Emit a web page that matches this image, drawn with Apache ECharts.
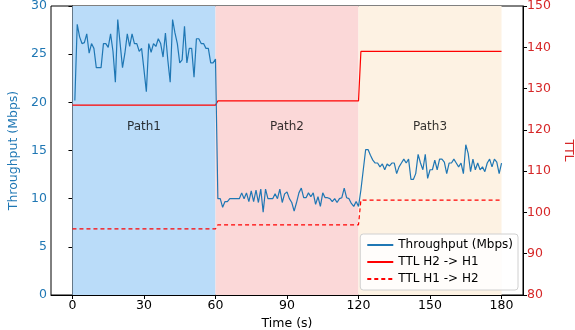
<!DOCTYPE html>
<html>
<head>
<meta charset="utf-8">
<script src="https://cdn.jsdelivr.net/npm/echarts@6/dist/echarts.min.js"></script>
<style>
  html, body { margin: 0; padding: 0; background: #fff; }
  #chart { width: 575px; height: 330px; }
</style>
</head>
<body>
<div id="chart"></div>
<script>
// throughput sampled once a second, t = 1 .. 180
var throughput = [
  20.2, 28.1, 26.8, 26.1, 26.2, 27.1, 25.1, 26.1, 25.6, 23.6,
  23.6, 23.6, 26.1, 26.1, 25.7, 27.1, 25.3, 22.1, 28.6, 26.1,
  23.6, 25.1, 27.1, 25.8, 27.1, 26.1, 26.1, 25.3, 25.6, 23.4,
  21.1, 26.1, 25.2, 26.1, 25.8, 26.6, 26.1, 24.7, 27.2, 24.4,
  22.1, 28.6, 27.2, 26.1, 24.1, 24.4, 27.9, 24.1, 25.6, 25.6,
  22.6, 26.6, 26.6, 26.1, 26.1, 25.6, 25.6, 24.1, 24.1, 24.5,
  10.0, 10.0, 9.1, 9.7, 9.7, 10.0, 10.0, 10.0, 10.0, 10.0,
  10.6, 10.0, 10.6, 9.7, 10.8, 9.7, 10.9, 9.6, 11.0, 8.6,
  11.0, 10.0, 10.0, 10.0, 10.5, 10.0, 11.0, 9.6, 10.5, 10.7,
  10.0, 9.6, 8.7, 9.6, 10.6, 11.1, 10.1, 10.1, 10.6, 10.2,
  10.6, 9.4, 10.2, 9.2, 10.6, 10.1, 10.1, 10.0, 9.7, 10.0,
  9.6, 10.0, 10.1, 11.1, 10.1, 10.0, 9.5, 9.2, 9.7, 9.2,
  10.9, 13.0, 15.1, 15.1, 14.5, 14.0, 13.7, 13.7, 13.3, 13.6,
  13.0, 13.6, 13.4, 13.7, 13.7, 12.6, 13.3, 13.7, 14.1, 13.7,
  14.1, 12.0, 12.0, 12.6, 14.6, 13.7, 13.0, 14.6, 12.1, 13.0,
  13.0, 14.0, 13.0, 14.1, 14.1, 13.8, 12.6, 13.7, 13.7, 14.1,
  13.7, 13.3, 13.7, 12.6, 15.6, 14.7, 12.8, 14.1, 13.0, 13.7,
  13.0, 13.3, 12.8, 13.7, 14.1, 13.3, 14.1, 13.8, 12.6, 13.7
];
var startTime = 1;

var ttlTimes = [0, 60, 61, 120, 121, 180];
var ttlH2H1 = [126, 126, 127, 127, 139, 139];
var ttlH1H2 = [96, 96, 97, 97, 103, 103];

var pathNames = ["Path1", "Path2", "Path3"];
var pathStart = [0, 60, 120];
var pathEnd = [60, 120, 180];
var pathColors = ["#badcf9", "#fbd8d8", "#fdf2e3"];
var pathLabelX = [30, 90, 150];
var pathLabelY = 17.5;

var timeTicks = [0, 30, 60, 90, 120, 150, 180];

var blue = "#1f77b4";
var red = "#d62728";
var font = "DejaVu Sans";
var fs = 12.5;

var chart = echarts.init(document.getElementById("chart"));

var pairs = function (xs, ys) {
  return xs.map(function (x, i) { return [x, ys[i]]; });
};

chart.setOption({
  animation: false,
  textStyle: { fontFamily: font },
  grid: {
    left: 51, right: 52, top: 6, bottom: 35,
    outerBoundsMode: "none",
    containLabel: false,
    show: true, borderColor: "#000", borderWidth: 1
  },
  legend: {
    orient: "vertical",
    right: 57, bottom: 40,
    padding: [5, 5, 5, 6],
    itemGap: 5,
    itemWidth: 26,
    itemHeight: 12,
    itemStyle: { opacity: 0 },
    backgroundColor: "rgba(255,255,255,0.85)",
    borderColor: "#d0d0d0",
    borderWidth: 1,
    borderRadius: 3,
    textStyle: { fontFamily: font, fontSize: 12, color: "#000" },
    data: ["Throughput (Mbps)", "TTL H2 -> H1", "TTL H1 -> H2"]
  },
  xAxis: {
    type: "value",
    min: -9, max: 189,
    name: "Time (s)",
    nameLocation: "middle",
    nameGap: 21,
    nameTextStyle: { fontFamily: font, fontSize: fs, color: "#000" },
    splitLine: { show: false },
    axisLine: { lineStyle: { color: "#000" } },
    axisTick: { customValues: timeTicks, length: 4, lineStyle: { color: "#000" } },
    axisLabel: { customValues: timeTicks, fontFamily: font, fontSize: fs, color: "#000", margin: 4 }
  },
  yAxis: [
    {
      type: "value",
      min: 0, max: 30, interval: 5,
      name: "Throughput (Mbps)",
      nameLocation: "middle",
      nameGap: 30,
      nameTextStyle: { fontFamily: font, fontSize: fs, color: blue },
      splitLine: { show: false },
      axisLine: { show: true, lineStyle: { color: "#000" } },
      axisTick: { show: true, length: 4, lineStyle: { color: "#000" } },
      axisLabel: { fontFamily: font, fontSize: fs, color: blue, margin: 4 }
    },
    {
      type: "value",
      min: 80, max: 150, interval: 10,
      name: "TTL",
      nameLocation: "middle",
      nameGap: 35,
      nameRotate: -90,
      nameTextStyle: { fontFamily: font, fontSize: fs, color: red },
      splitLine: { show: false },
      axisLine: { show: true, lineStyle: { color: "#000" } },
      axisTick: { show: true, length: 4, lineStyle: { color: "#000" } },
      axisLabel: { fontFamily: font, fontSize: fs, color: red, margin: 4 }
    }
  ],
  series: [
    {
      name: "Throughput (Mbps)",
      type: "line",
      yAxisIndex: 0,
      symbol: "none",
      z: 3,
      color: blue,
      lineStyle: { color: blue, width: 1.2 },
      data: throughput.map(function (v, i) { return [startTime + i, v]; }),
      markArea: {
        silent: true,
        data: pathNames.map(function (n, i) {
          return [
            { xAxis: pathStart[i], itemStyle: { color: pathColors[i] } },
            { xAxis: pathEnd[i] }
          ];
        })
      }
    },
    {
      name: "TTL H2 -> H1",
      type: "line",
      yAxisIndex: 1,
      symbol: "none",
      z: 2,
      color: "#ff0000",
      lineStyle: { color: "#ff0000", width: 1.2 },
      data: pairs(ttlTimes, ttlH2H1)
    },
    {
      name: "TTL H1 -> H2",
      type: "line",
      yAxisIndex: 1,
      symbol: "none",
      z: 2,
      color: "#ff0000",
      lineStyle: { color: "#ff0000", width: 1.2, type: [4, 3] },
      data: pairs(ttlTimes, ttlH1H2)
    },
    {
      name: "paths",
      type: "scatter",
      yAxisIndex: 0,
      symbolSize: 0,
      silent: true,
      label: {
        show: true,
        position: "inside",
        fontFamily: font,
        fontSize: 12,
        color: "#000",
        formatter: function (p) { return pathNames[p.dataIndex]; }
      },
      data: pathLabelX.map(function (x) { return [x, pathLabelY]; })
    }
  ]
});
</script>
</body>
</html>
